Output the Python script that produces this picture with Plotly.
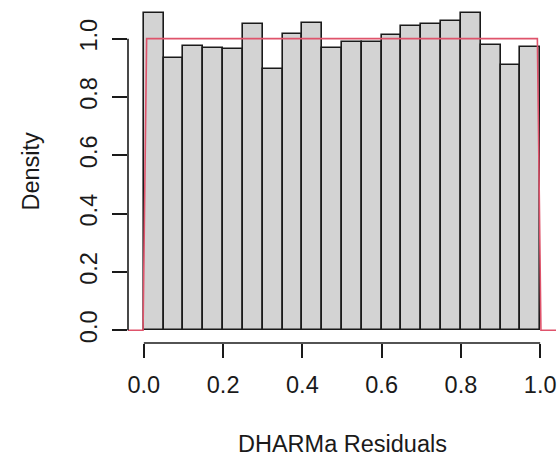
import plotly.graph_objects as go

# Histogram of scaled residuals (20 bins on [0, 1], density scale)
bin_edges = [i / 20 for i in range(21)]
densities = [1.089, 0.935, 0.976, 0.968, 0.963, 1.049, 0.896, 1.017, 1.054, 0.968,
             0.987, 0.987, 1.011, 1.043, 1.049, 1.060, 1.088, 0.977, 0.908, 0.971]

# Uniform reference density, evaluated on a coarse grid
unif_x = [-0.04, -0.002, 0.007, 0.993, 1.002, 1.04]
unif_y = [0, 0, 1, 1, 0, 0]

tick_vals = [0.0, 0.2, 0.4, 0.6, 0.8, 1.0]
tick_text = ["0.0", "0.2", "0.4", "0.6", "0.8", "1.0"]

x_title = "DHARMa Residuals"
y_title = "Density"

FONT = "Liberation Sans, Arial, sans-serif"
FS = 23.5
INK = "#1a1a1a"
RED = "#DF536B"

centers = [(a + b) / 2 for a, b in zip(bin_edges[:-1], bin_edges[1:])]
widths = [b - a for a, b in zip(bin_edges[:-1], bin_edges[1:])]

fig = go.Figure()
fig.add_trace(go.Bar(
    x=centers, y=densities, width=widths, base=0,
    marker=dict(color="#D3D3D3", line=dict(color=INK, width=1.6)),
    showlegend=False, hoverinfo="skip",
))
fig.add_trace(go.Scatter(
    x=unif_x, y=unif_y, mode="lines",
    line=dict(color=RED, width=1.6),
    showlegend=False, hoverinfo="skip",
))

ymax = max(densities)
ypad = 0.04 * ymax

fig.update_layout(
    width=559, height=456,
    margin=dict(l=128, r=3, t=0, b=113, pad=0),
    paper_bgcolor="white", plot_bgcolor="white",
    bargap=0,
    font=dict(family=FONT, size=FS, color=INK),
    xaxis=dict(
        range=[-0.04, 1.04], showgrid=False, zeroline=False, showline=False,
        tickmode="array", tickvals=tick_vals, ticktext=tick_text,
        ticks="outside", ticklen=14, tickwidth=1.6, tickcolor=INK,
        ticklabelstandoff=7,
    ),
    yaxis=dict(
        range=[-ypad, ymax + ypad], showgrid=False, zeroline=False, showline=False,
        tickmode="array", tickvals=tick_vals, ticktext=tick_text,
        ticks="outside", ticklen=15, tickwidth=1.6, tickcolor=INK,
        tickangle=-90, ticklabelstandoff=6,
    ),
    shapes=[
        dict(type="line", xref="x", yref="paper", x0=0, x1=1, y0=0, y1=0,
             line=dict(color=INK, width=1.6)),
        dict(type="line", xref="paper", yref="y", x0=0, x1=0, y0=0, y1=1,
             line=dict(color=INK, width=1.6)),
    ],
    annotations=[
        dict(text=x_title, xref="x", yref="paper", x=0.5, y=0, yshift=-101,
             showarrow=False, xanchor="center", yanchor="middle",
             font=dict(size=FS)),
        dict(text=y_title, xref="paper", yref="paper", x=0, y=0.5, xshift=-98,
             showarrow=False, xanchor="center", yanchor="middle", textangle=-90,
             font=dict(size=FS)),
    ],
)

fig.write_html("out.html")
